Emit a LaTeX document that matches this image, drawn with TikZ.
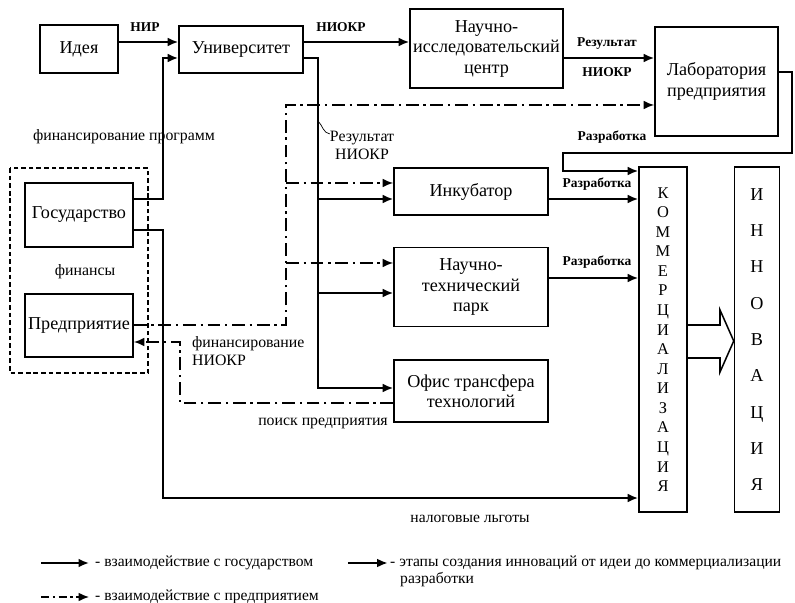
\documentclass[tikz,border=0pt]{standalone}
\usepackage{fontspec}
\setmainfont{Liberation Serif}
\usetikzlibrary{arrows.meta, positioning}

\begin{document}
\begin{tikzpicture}[
  x=0.3mm, y=-0.3mm,
  box/.style={rectangle, draw=black, line width=1.3pt, align=center,
              inner sep=1pt, font=\fontsize{15.5}{17.5}\selectfont},
  lbl/.style={inner sep=0pt, font=\bfseries\fontsize{11.5}{13}\selectfont},
  note/.style={inner sep=0pt, align=left, font=\fontsize{13.5}{15.5}\selectfont},
  legend/.style={inner sep=0pt, anchor=west, font=\fontsize{13.3}{15}\selectfont},
  tip/.style={-{Latex[length=9pt, width=7.5pt]}},
  stage/.style={tip, line width=1.6pt},
  state/.style={tip, line width=2.4pt},
  firm/.style={tip, line width=1.5pt, dash pattern=on 11pt off 4pt on 2pt off 4pt},
  outline/.style={line width=1.2pt, dash pattern=on 4pt off 2.5pt}
]
\useasboundingbox (0,0) rectangle (795,603);

\node[box, minimum width=23.4mm, minimum height=14.4mm] (idea) at (79,49) {Идея};
\node[box, minimum width=37.2mm, minimum height=14.1mm] (univ) at (241,49.5) {Университет};
\node[box, minimum width=45.9mm, minimum height=23.7mm] (nic) at (486.5,48.5) {Научно-\\исследовательский\\центр};
\node[box, minimum width=36.9mm, minimum height=32.7mm] (lab) at (716.5,81.5) {Лаборатория\\предприятия};

\node[box, minimum width=46.2mm, minimum height=14.1mm] (inc) at (471,191.5) {Инкубатор};
\node[box, minimum width=46.2mm, minimum height=23.7mm, below=9.3mm of inc] (park) {Научно-\\технический\\парк};
\node[box, minimum width=46.2mm, minimum height=18.6mm, below=9.6mm of park] (tto) {Офис трансфера\\технологий};

\node[box, minimum width=14.4mm, minimum height=103.5mm, font=\fontsize{14}{16.7}\selectfont] (comm) at (663,339.5)
  {К\\О\\М\\М\\Е\\Р\\Ц\\И\\А\\Л\\И\\З\\А\\Ц\\И\\Я};
\node[box, minimum width=13.5mm, minimum height=103.5mm, right=13.8mm of comm, font=\fontsize{15.5}{31}\selectfont] (innov)
  {И\\Н\\Н\\О\\В\\А\\Ц\\И\\Я};

\node[box, minimum width=32.4mm, minimum height=19.2mm] (gov) at (79,215) {Государство};
\node[box, minimum width=32.4mm, minimum height=18.9mm] (ent) at (79,325.5) {Предприятие};
\node[note] (fin) at (85,272) {финансы};
\draw[outline] (10,168) rectangle (148,373);

\coordinate (ubus) at (318,58);
\coordinate (ebus) at (286,325);
\coordinate (gbus) at (163,199);
\coordinate (fbus) at (180,342);

\draw[stage] (idea.east |- 0,42) -- (univ.west |- 0,42);
\draw[stage] (univ.east |- 0,42) -- (nic.west |- 0,42);
\draw[stage] (nic.east |- 0,58) -- (lab.west |- 0,58);
\draw[stage] (lab.east |- 0,72) -- (792,72) -- (792,153) -- (563,153) -- (563,171) -- (comm.west |- 0,171);
\draw[stage] (univ.east |- ubus) -- (ubus) -- (ubus |- 0,388) -- (tto.west |- 0,388);
\draw[stage] (ubus |- 0,199) -- (inc.west |- 0,199);
\draw[stage] (ubus |- 0,293) -- (park.west |- 0,293);
\draw[stage] (inc.east |- 0,199) -- (comm.west |- 0,199);
\draw[stage] (park.east |- 0,278) -- (comm.west |- 0,278);
\draw[line width=1.3pt] (comm.east |- 0,325) -- (720,325) -- (720,310) -- (innov.west |- 0,341)
  -- (720,372) -- (720,358) -- (comm.east |- 0,358);

\draw[state] (gov.east |- gbus) -- (gbus) -- (gbus |- 0,58) -- (univ.west |- 0,58);
\draw[state] (gov.east |- 0,230) -- (gbus |- 0,230) -- (gbus |- 0,498) -- (comm.west |- 0,498);

\draw[firm] (ent.east |- ebus) -- (ebus) -- (ebus |- 0,105) -- (lab.west |- 0,105);
\draw[firm] (ebus |- 0,183) -- (inc.west |- 0,183);
\draw[firm] (ebus |- 0,263) -- (park.west |- 0,263);
\draw[firm] (tto.west |- 0,403) -- (fbus |- 0,403) -- (fbus) -- (ent.east |- fbus);

\node[lbl] (nir) at (145,27) {НИР};
\node[lbl] (niokr) at (341,27) {НИОКР};
\node[lbl] (res1) at (607,44) {Результат};
\node[lbl] (res2) at (607,72) {НИОКР};
\node[lbl] (dev1) at (612,137) {Разработка};
\node[lbl] (dev2) at (597,184) {Разработка};
\node[lbl] (dev3) at (597,262) {Разработка};
\node[note, align=center] (res) at (362,145) {Результат\\НИОКР};
\draw[line width=0.6pt] (ubus |- 0,121) to[out=-45, in=170] ([yshift=-3pt]res.north west);
\node[note] (finprog) at (124,137) {финансирование программ};
\node[note] (finniokr) at (192,351) [anchor=west] {финансирование\\НИОКР};
\node[note] (search) at (323,423) {поиск предприятия};
\node[legend, anchor=center] (tax) at (470,519) {налоговые льготы};

\node[legend] (l1) at (95,563) {- взаимодействие с государством};
\node[legend] (l2) at (390,563) {- этапы создания инноваций от идеи до коммерциализации};
\node[legend] (l2b) at (400,580) {разработки};
\node[legend] (l3) at (95,597) {- взаимодействие с предприятием};
\draw[state] ([xshift=-46pt]l1.west) -- ([xshift=-5pt]l1.west);
\draw[stage] ([xshift=-36pt]l2.west) -- ([xshift=-2pt]l2.west);
\draw[firm, dash pattern=on 7pt off 3pt on 2pt off 3pt] ([xshift=-46pt]l3.west) -- ([xshift=-5pt]l3.west);

\end{tikzpicture}
\end{document}
